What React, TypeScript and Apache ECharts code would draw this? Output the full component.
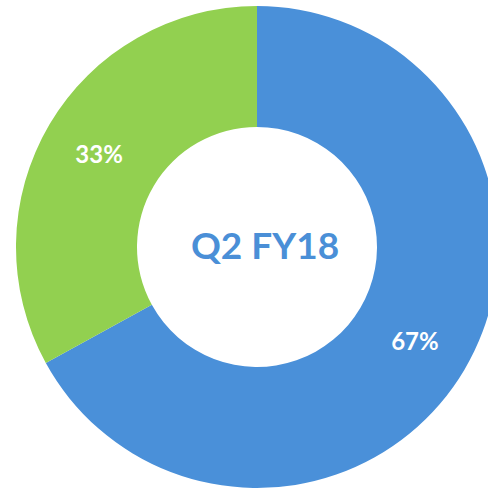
import React, { useEffect, useRef } from "react";
import * as echarts from "echarts";

const categories = ["Blue", "Green"];
const values = [67, 33];
const colors = ["#4a90d9", "#92d050"];
const centerTitle = "Q2 FY18";

export default function App() {
  const ref = useRef<HTMLDivElement>(null);
  useEffect(() => {
    const chart = echarts.init(ref.current!, null, { renderer: "svg" });
    chart.setOption({
      animation: false,
      title: {
        text: centerTitle,
        left: 260,
        top: 239,
        textAlign: "center",
        textVerticalAlign: "middle",
        textStyle: {
          fontFamily: "Lato",
          fontWeight: "bold",
          fontSize: 37,
          color: "#4a8fd7",
        },
      },
      series: [
        {
          type: "pie",
          center: [257, 247],
          radius: [120, 241],
          startAngle: 90,
          clockwise: true,
          data: categories.map((c, i) => ({
            name: c,
            value: values[i],
            itemStyle: { color: colors[i] },
          })),
          label: {
            show: true,
            position: "inside",
            formatter: (p: any) => p.value + "%",
            color: "#ffffff",
            fontFamily: "Lato",
            fontWeight: "bold",
            fontSize: 24,
          },
          labelLine: { show: false },
          emphasis: { disabled: true },
        },
      ],
    });
    return () => chart.dispose();
  }, []);
  return (
    <div
      ref={ref}
      style={{ position: "absolute", left: 0, top: 0, width: 488, height: 489 }}
    />
  );
}
